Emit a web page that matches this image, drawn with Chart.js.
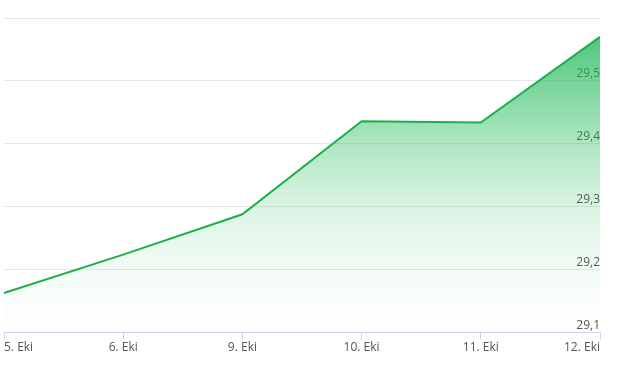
<!DOCTYPE html>
<html><head><meta charset="utf-8">
<script src="https://cdn.jsdelivr.net/npm/chart.js@4/dist/chart.umd.min.js"></script>
<style>html,body{margin:0;padding:0;background:#fff}#wrap{width:621px;height:365px}</style>
</head><body><div id="wrap"><canvas id="c" width="621" height="365"></canvas></div>
<script>
const categories = ["5. Eki", "6. Eki", "9. Eki", "10. Eki", "11. Eki", "12. Eki"];
const values = [29.163, 29.224, 29.288, 29.436, 29.434, 29.570];
const yMin = 29.1, yMax = 29.6, yStep = 0.1;

const ctx = document.getElementById('c').getContext('2d');
new Chart(ctx, {
  type: 'line',
  data: {
    labels: categories,
    datasets: [{
      data: values,
      borderColor: '#1bb04a',
      borderWidth: 2,
      pointRadius: 0,
      tension: 0,
      fill: 'start',
      backgroundColor: (c) => {
        const a = c.chart.chartArea;
        if (!a) return 'rgba(30,180,80,0.3)';
        const g = c.chart.ctx.createLinearGradient(0, a.top, 0, a.bottom);
        g.addColorStop(0, 'rgba(30,185,85,0.85)');
        g.addColorStop(0.4, 'rgba(30,185,85,0.36)');
        g.addColorStop(0.6, 'rgba(30,185,85,0.16)');
        g.addColorStop(0.8, 'rgba(30,185,85,0.05)');
        g.addColorStop(1, 'rgba(30,185,85,0)');
        return g;
      }
    }]
  },
  options: {
    responsive: false,
    animation: false,
    layout: { padding: { left: 4, right: 21, top: 18, bottom: 9 } },
    plugins: { legend: { display: false }, tooltip: { enabled: false } },
    scales: {
      x: {
        offset: false,
        grid: { drawOnChartArea: false, drawTicks: true, tickLength: 7, color: '#ccd6eb' },
        border: { color: '#ccd6eb' },
        ticks: { align: 'inner', maxRotation: 0, padding: 1, color: '#555', font: { family: 'Open Sans', size: 12 } }
      },
      y: {
        position: 'right',
        min: yMin, max: yMax,
        afterFit: (s) => { s.width = 0; },
        grid: { color: '#e6e6e6', drawTicks: false },
        border: { display: false },
        ticks: {
          stepSize: yStep, mirror: true, padding: 0, labelOffset: -7,
          color: '#555', font: { family: 'Open Sans', size: 12 },
          callback: (v) => (Math.abs(v - yMax) < 1e-9 ? '' : v.toFixed(1).replace('.', ','))
        }
      }
    }
  }
});
</script></body></html>
